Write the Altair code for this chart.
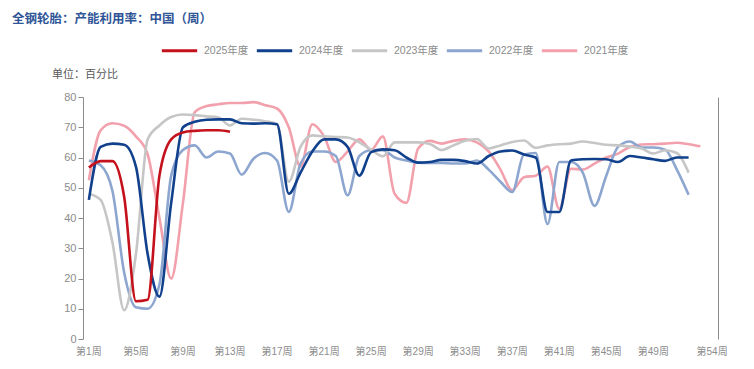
import altair as alt
import pandas as pd

series_names = ["2025年度", "2024年度", "2023年度", "2022年度", "2021年度"]
series_colors = ["#C4111B", "#11408C", "#C6C6C6", "#8DA6CF", "#F2A1AC"]

y2025 = [56.7, 58.8, 58.8, 47, 12.5, 13, 54, 66, 68.3, 68.8, 69, 69, 68.5]
y2024 = [46, 63.5, 64.6, 64.2, 57, 28, 14, 45, 70, 71.8, 72.5, 72.6, 72.6, 71.3, 71.2, 71.3, 71,
         48, 55, 62, 66, 66, 63.5, 54, 61.8, 62.7, 62.4, 60, 58.3, 58.5, 59.2, 59.2, 58.8, 58,
         60.5, 62, 62.3, 61, 60, 42, 42, 59, 59.4, 59.5, 59.4, 58.5, 60.5, 60, 59.4, 58.9, 60, 60]
y2023 = [48, 46, 32, 9.5, 28, 66, 70.6, 73.4, 74.2, 74, 73.6, 73.3, 70.6, 72.8, 72.5, 72, 71,
         52, 63.5, 67.3, 67, 66.8, 66.6, 65, 62.6, 60.4, 65, 65, 65, 64.5, 62.5, 64, 65.5, 66.1,
         63, 64, 65.1, 65.6, 63.2, 64, 64.4, 64.6, 65.3, 64.8, 64.2, 64, 63.6, 63, 61.3, 62.4, 61.5, 55]
y2022 = [59, 57.4, 49, 22, 10.5, 10, 18, 54, 62.5, 64, 60, 62, 61.3, 54.3, 59.6, 61.5, 59,
         42, 58, 62, 62, 60.5, 47.5, 60.5, 62.4, 62.4, 60, 59, 58.3, 58.2, 58.2, 58, 58, 59,
         56, 52, 48.6, 61, 61.5, 38, 58.5, 58.5, 55, 44, 54, 63.5, 65.3, 63.3, 63.3, 62.6, 56, 47.7]
y2021 = [52.5, 69, 71.3, 70.5, 67, 61, 40, 20, 45, 75, 77, 77.6, 78, 78, 78.3, 77.3, 76.2,
         70, 57, 71, 67, 58.5, 62, 66, 62.5, 67, 48, 45, 63, 65.5, 64.6, 65.5, 66, 65,
         62, 56, 49.2, 53.5, 54, 57, 43, 56.3, 56, 58, 60, 61.3, 63.5, 64.3, 64.4, 64.6, 64.9, 64.4, 63.7]

label_weeks = [1, 5, 9, 13, 17, 21, 25, 29, 33, 37, 41, 45, 49, 54]
tick_bounds = [0.5, 4.5, 8.5, 12.5, 16.5, 20.5, 24.5, 28.5, 32.5, 36.5, 40.5, 44.5, 48.5, 52.5, 54.5]

title_text = "全钢轮胎：产能利用率：中国（周）"
unit_text = "单位：百分比"

rows = []
for name, vals in [("2021年度", y2021), ("2022年度", y2022), ("2023年度", y2023),
                   ("2024年度", y2024), ("2025年度", y2025)]:
    for i, v in enumerate(vals):
        rows.append({"week": i + 1, "value": v, "series": name})
df = pd.DataFrame(rows)

labels_df = pd.DataFrame({"week": label_weeks,
                          "label": ["第%d周" % w for w in label_weeks]})

FONT = "Liberation Sans, Noto Sans CJK SC"
GREY = "#8C8C8C"

x_scale = alt.Scale(domain=[0.5, 54.5], nice=False, zero=False)

lines = alt.Chart(df).mark_line(interpolate="monotone", strokeWidth=2.6).encode(
    x=alt.X(
        "week:Q", scale=x_scale,
        axis=alt.Axis(values=tick_bounds, labels=False, grid=False, title=None,
                      domainColor=GREY, tickColor=GREY, tickSize=5),
    ),
    y=alt.Y(
        "value:Q",
        scale=alt.Scale(domain=[0, 80], nice=False),
        axis=alt.Axis(values=list(range(0, 81, 10)), grid=False, title=None,
                      domainColor=GREY, tickColor=GREY, tickSize=5,
                      labelColor=GREY, labelFont=FONT, labelFontSize=11, labelPadding=2),
    ),
    color=alt.Color(
        "series:N",
        scale=alt.Scale(domain=series_names, range=series_colors),
        legend=alt.Legend(
            orient="none", legendX=77, legendY=-66, direction="horizontal", title=None,
            symbolType="stroke", symbolSize=1250, symbolStrokeWidth=3,
            labelFont=FONT, labelFontSize=10.5, labelColor=GREY,
            columnPadding=1, labelOffset=5,
        ),
    ),
    detail="series:N",
)

right_line = alt.Chart(df).mark_line(opacity=0).encode(
    x=alt.X("week:Q", scale=x_scale, axis=None),
    y=alt.Y("value:Q", axis=alt.Axis(orient="right", labels=False, ticks=False, title=None,
                                     grid=False, domainColor=GREY)),
)

x_labels = alt.Chart(labels_df).mark_text(
    align="center", baseline="middle", font=FONT, fontSize=10, color=GREY,
).encode(x=alt.X("week:Q", scale=x_scale, axis=None), y=alt.value(255), text="label:N")

title_mark = alt.Chart(pd.DataFrame({"t": [title_text]})).mark_text(
    align="left", baseline="alphabetic", font="Noto Sans CJK SC", fontSize=12.5,
    fontWeight="bold", color="#2F5597",
).encode(text="t:N", x=alt.value(-71), y=alt.value(-74))

unit_mark = alt.Chart(pd.DataFrame({"t": [unit_text]})).mark_text(
    align="left", baseline="middle", font="Noto Sans CJK SC", fontSize=11, color="#595959",
).encode(text="t:N", x=alt.value(-31), y=alt.value(-22))

chart = alt.layer(lines, right_line, x_labels, title_mark, unit_mark).resolve_axis(
    y="independent"
).properties(
    width=635, height=242,
    autosize=alt.AutoSizeParams(type="none"),
    padding={"left": 75, "top": 89, "right": 28, "bottom": 22},
).configure_view(stroke=None)

chart.save("out.html", embed_options={"renderer": "svg", "actions": False})
